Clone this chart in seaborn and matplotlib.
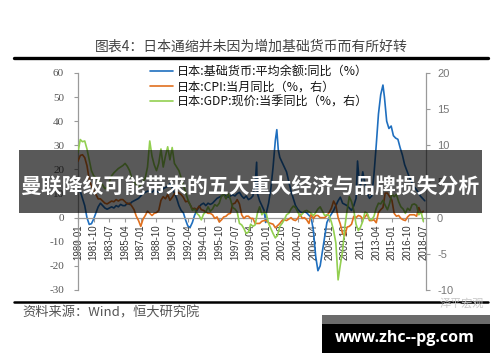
import matplotlib
matplotlib.use("Agg")
import matplotlib.pyplot as plt
from matplotlib.patches import Rectangle
from matplotlib.lines import Line2D
import seaborn as sns
import pandas as pd

# ---------------- data ----------------
base_dates = ["1980-01","1980-04","1980-07","1980-10","1981-01","1981-04","1981-07","1981-10",
    "1982-01","1982-04","1982-07","1982-10","1983-01","1983-04","1983-07","1983-10",
    "1984-01","1984-04","1984-07","1984-10","1985-01","1985-04","1985-07","1985-10",
    "1986-01","1986-04","1986-07","1986-10","1987-01","1987-04","1987-07","1987-10",
    "1988-01","1988-04","1988-07","1988-10","1989-01","1989-04","1989-07","1989-10",
    "1990-01","1990-04","1990-07","1990-10","1991-01","1991-04","1991-07","1991-10",
    "1992-01","1992-04","1992-07","1992-10","1993-01","1993-04","1993-07","1993-10",
    "1994-01","1994-04","1994-07","1994-10","1995-01","1995-04","1995-07","1995-10",
    "1996-01","1996-04","1996-07","1996-10","1997-01","1997-04","1997-07","1997-10",
    "1998-01","1998-04","1998-07","1998-10","1999-01","1999-04","1999-07","1999-10","1999-12",
    "2000-01","2000-04","2000-07","2000-10","2000-12","2001-01","2001-04","2001-07","2001-10",
    "2002-01","2002-03","2002-05","2002-07","2002-10","2003-01","2003-04","2003-07","2003-10",
    "2004-01","2004-04","2004-07","2004-10","2005-01","2005-04","2005-07","2005-10",
    "2006-01","2006-04","2006-07","2006-10","2007-01","2007-04","2007-07","2007-10",
    "2008-01","2008-04","2008-07","2008-10","2009-01","2009-04","2009-07","2009-10",
    "2010-01","2010-04","2010-07","2010-10","2011-01","2011-03","2011-05","2011-07","2011-10",
    "2012-01","2012-04","2012-07","2012-10","2013-01","2013-04","2013-07","2013-10",
    "2014-01","2014-03","2014-06","2014-09","2014-12","2015-03","2015-06","2015-09","2015-12",
    "2016-03","2016-06","2016-09","2016-12","2017-03","2017-06","2017-09","2017-12",
    "2018-03","2018-06","2018-09"]
base_money = [10.5,11,8,5,0,-2.8,-2.5,-0.5,
    2,4.5,6,5,4,3.5,4,4.5,
    4,5,4.5,5.5,5,5,6,5.5,
    6.5,7,7.5,8,9,10,10.5,11,
    11,10.5,11.5,11,10.5,11,12,12.5,
    13,14,12.5,10,8,5,3,2,
    -1,-3.5,-4,-2,1,3,4.5,5.5,
    6,5,6,5.5,6,7,8,8.5,
    9,9.5,9,8.5,9,9.5,9,10,
    10.5,9,8,9,7.5,8,9,14,23,
    10,7,5,3,-2,2,6,12,21,
    32,36.5,28,25,23,21,19,15,11,
    8,5,3.5,2.5,2,2.5,2,1,
    0,-5.5,-16,-22,-20,-14,-8,-2,
    0,1.5,3,5,7,8.5,6,5.5,
    5,4,3,5,8,23.5,16,13,19,
    14,10,8,9,18,30,43,51,
    55,50,40,37,38,34,33,32.5,29,
    26,22,19.5,17,15,13,12,10.5,
    9,8,7]

q_dates = [f"{y}-{m:02d}" for y in range(1980, 2019) for m in (1, 4, 7, 10)][:-1]
cpi = [7.8,8.6,8.7,8.3,7.2,5.3,4.3,3.8,3.2,2.6,2.6,2.3,2.0,1.9,2.1,2.3,
    2.2,2.5,2.3,2.5,2.5,2.2,1.9,2.0,1.6,1.1,0.2,-0.4,-1.2,-0.2,0.3,0.9,
    0.6,0.3,0.6,0.7,1.0,2.4,2.9,2.6,3.2,2.4,2.8,3.3,3.6,3.4,3.2,2.8,
    2.2,2.3,1.8,1.2,1.3,1.1,1.6,1.1,1.0,0.8,0.6,0.6,0.4,-0.1,0.1,-0.6,
    -0.3,0.1,0.2,0.5,0.6,1.9,2.0,2.5,1.9,0.4,-0.1,0.2,0.2,-0.1,-0.1,-0.8,
    -0.8,-0.8,-0.5,-0.4,-0.4,-0.7,-0.8,-0.9,-1.4,-1.1,-0.8,-0.4,-0.3,-0.4,-0.2,0.0,
    -0.3,-0.4,-0.1,0.5,-0.1,0.0,-0.3,-0.8,0.5,-0.1,0.3,0.3,0.0,0.0,0.0,0.3,
    0.7,1.3,2.3,1.7,0.0,-0.9,-2.2,-2.5,-1.3,-1.2,-0.9,0.2,0.0,0.3,0.2,-0.2,
    0.1,0.5,-0.4,-0.4,-0.3,-0.7,0.7,1.1,1.4,3.4,3.4,2.9,2.4,0.6,0.2,0.3,
    -0.1,-0.3,-0.4,0.1,0.4,0.4,0.4,0.2,1.4,0.6,0.9]
gdp = [9.0,10.8,10.5,10.6,9.5,8.0,6.5,5.8,5.5,5.2,4.8,4.5,4.0,4.2,5.0,5.8,
    6.2,6.5,6.8,7.0,7.2,7.5,7.1,6.5,5.5,5.0,4.5,4.2,4.5,5.0,5.5,7.0,
    10.6,8.5,7.3,6.5,7.5,9.5,7.0,8.5,9.8,8.0,9.7,7.5,7.0,6.5,5.5,4.5,
    3.5,2.5,1.8,1.0,1.2,0.6,0.3,-0.3,0.5,0.8,1.5,0.9,1.2,1.8,1.6,2.0,
    3.0,3.2,2.6,3.3,2.5,1.4,1.2,0.8,-0.8,-1.0,-1.5,-2.2,-2.0,-0.9,-1.2,-1.0,
    0.6,1.5,0.4,0.8,0.5,-0.8,-1.5,-2.2,-2.8,-2.4,-1.2,-0.8,-0.3,0.4,0.6,1.2,
    1.6,1.4,0.8,0.2,0.5,0.9,1.0,0.8,0.6,0.3,0.7,1.2,1.5,0.9,0.3,0.4,
    0.3,-0.6,-1.8,-3.5,-8.6,-6.5,-4.6,-1.3,1.0,2.9,2.2,1.0,-0.9,-1.8,-1.3,-0.5,
    0.8,0.6,-0.2,-0.3,0.2,1.3,2.0,1.9,2.4,1.7,1.1,2.0,3.3,2.9,3.2,2.2,
    1.5,1.2,0.6,1.3,1.0,1.8,1.9,1.7,0.4,0.8,-0.5]

tick_labels = ["1980-01","1981-10","1983-07","1985-04","1987-01","1988-10","1990-07",
    "1992-04","1994-01","1995-10","1997-07","1999-04","2001-01","2002-10","2004-07",
    "2006-04","2008-01","2009-10","2011-07","2013-04","2015-01","2016-10","2018-07"]

series_names = ["日本:基础货币:平均余额:同比（%）",
                "日本:CPI:当月同比（%，右）",
                "日本:GDP:现价:当季同比（%，右）"]

def to_year(s):
    y, m = s.split("-")
    return int(y) + (int(m) - 1) / 12.0

df_base = pd.DataFrame({"t": [to_year(d) for d in base_dates], "v": base_money})
df_cpi = pd.DataFrame({"t": [to_year(d) for d in q_dates], "v": cpi})
df_gdp = pd.DataFrame({"t": [to_year(d) for d in q_dates], "v": gdp})

# ---------------- style ----------------
sns.set_theme(style="white")
plt.rcParams["font.family"] = ["Noto Sans CJK SC", "DejaVu Sans"]
plt.rcParams["axes.unicode_minus"] = False

W, H = 500, 362
fig = plt.figure(figsize=(5.0, 3.62), dpi=100)
fig.patch.set_facecolor("white")
ax = fig.add_axes([78 / W, 1 - 290 / H, (426 - 78) / W, (290 - 73) / H])
ax2 = ax.twinx()

c_blue, c_orange, c_green = "#1F6FBF", "#E0701F", "#92CF50"
lw = 1.2
sns.lineplot(data=df_base, x="t", y="v", ax=ax, color=c_blue, linewidth=lw,
             label=series_names[0], legend=False)
sns.lineplot(data=df_cpi, x="t", y="v", ax=ax2, color=c_orange, linewidth=lw,
             label=series_names[1], legend=False)
sns.lineplot(data=df_gdp, x="t", y="v", ax=ax2, color=c_green, linewidth=lw,
             label=series_names[2], legend=False)

ax.set_xlim(1980.0, 2018.8)
ax.set_ylim(-30, 60)
ax2.set_ylim(-10, 20)
ax.set_yticks(range(-30, 61, 10))
ax2.set_yticks(range(-10, 21, 5))
ax.set_xticks([to_year(s) for s in tick_labels])
ax.set_xticklabels(tick_labels)
ax.set_xlabel("")
ax.set_ylabel("")
ax2.set_ylabel("")

gray = "#9a9a9a"
for a in (ax, ax2):
    a.spines["top"].set_visible(False)
    a.grid(False)
ax.spines["bottom"].set_position(("data", 0))
ax.spines["bottom"].set_color(gray)
ax.spines["left"].set_color(gray)
ax.spines["right"].set_visible(False)
ax2.spines["left"].set_visible(False)
ax2.spines["bottom"].set_visible(False)
ax2.spines["right"].set_color(gray)
for s in ("bottom", "left"):
    ax.spines[s].set_linewidth(0.9)
ax2.spines["right"].set_linewidth(0.9)

ax.tick_params(axis="x", direction="out", length=3, width=0.8, color=gray, pad=2,
               bottom=True, labelrotation=90, labelsize=7, labelcolor="#333333")
ax.tick_params(axis="y", direction="out", length=3, width=0.8, color=gray, pad=7,
               labelsize=8, labelcolor="#555555", left=True)
ax2.tick_params(axis="y", direction="out", length=3, width=0.8, color=gray, pad=5,
                labelsize=8, labelcolor="#777777", right=True)
for lab in ax.get_xticklabels():
    lab.set_family(["Liberation Sans Narrow", "Liberation Sans", "DejaVu Sans"])
    lab.set_rotation(90)
for lab in ax.get_yticklabels():
    lab.set_family(["Liberation Serif", "DejaVu Serif"])
for lab in ax2.get_yticklabels():
    lab.set_family(["Liberation Sans", "DejaVu Sans"])

# legend
h1, l1 = ax.get_legend_handles_labels()
h2, l2 = ax2.get_legend_handles_labels()
leg = ax2.legend(h1 + h2, l1 + l2, loc="upper left",
                 bbox_to_anchor=(150 / W, 1 - 65 / H), bbox_transform=fig.transFigure,
                 frameon=False, fontsize=8.7, handlelength=1.9, handletextpad=0.3,
                 labelspacing=0.18, borderaxespad=0, borderpad=0)
for t in leg.get_texts():
    t.set_color("#111111")

# title & rules
fig.text(251 / W, 1 - 47 / H, "图表4：日本通缩并未因为增加基础货币而有所好转",
         ha="center", va="center", fontsize=10, color="#444444")
fig.add_artist(Line2D([14 / W, 488 / W], [1 - 58 / H] * 2, color="black", lw=2.4))
fig.add_artist(Line2D([14 / W, 488 / W], [1 - 302 / H] * 2, color="black", lw=1.8))
fig.text(22 / W, 1 - 313 / H, "资料来源：Wind，恒大研究院", ha="left", va="center",
         fontsize=9.5, color="#555555")
fig.text(462 / W, 1 - 303 / H, "泽平宏观", ha="center", va="center",
         fontsize=8, color="#c8c8c8", zorder=6)

# overlay banner
fig.add_artist(Rectangle((19 / W, 1 - 213 / H), (482 - 19) / W, 63 / H,
                         transform=fig.transFigure, facecolor="black", alpha=0.65,
                         edgecolor="none", zorder=5))
fig.text(250 / W, 1 - 186 / H, "曼联降级可能带来的五大重大经济与品牌损失分析",
         ha="center", va="center", fontsize=15, fontweight="bold", color="white", zorder=6)

# bottom watermark
fig.add_artist(Rectangle((322 / W, 1 - 324 / H), 168 / W, 9 / H, transform=fig.transFigure,
                         facecolor="#6b6b6b", edgecolor="none", zorder=5))
fig.add_artist(Rectangle((322 / W, 1 - 353 / H), 168 / W, 29 / H, transform=fig.transFigure,
                         facecolor="black", edgecolor="none", zorder=5))
fig.text(405 / W, 1 - 338 / H, "www.zhc--pg.com", ha="center", va="center",
         fontsize=11.5, fontweight="bold", color="white", zorder=6,
         family=["Open Sans", "DejaVu Sans"])

fig.savefig("out.png", dpi=100)
